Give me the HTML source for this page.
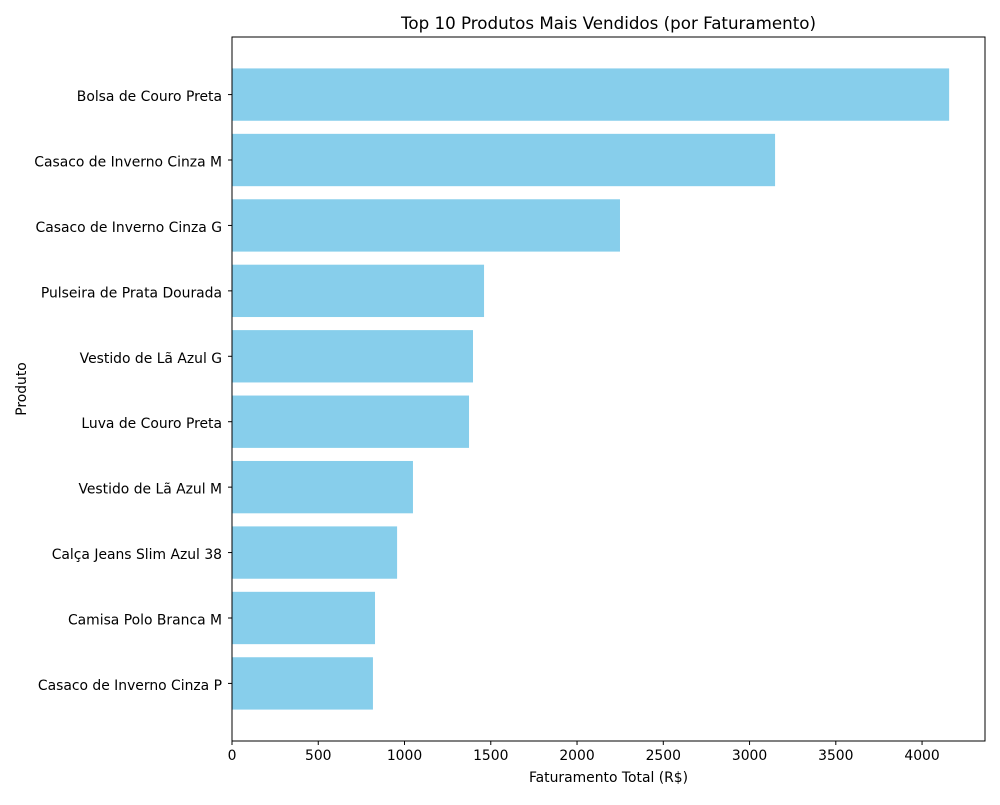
<!DOCTYPE html>
<html><head><meta charset="utf-8"><style>body{margin:0;background:#fff}svg{font-family:"DejaVu Sans","Liberation Sans",sans-serif}</style></head>
<body>
<svg id="chart" width="1000" height="800"></svg>
<script>
const categories = ["Bolsa de Couro Preta","Casaco de Inverno Cinza M","Casaco de Inverno Cinza G","Pulseira de Prata Dourada","Vestido de Lã Azul G","Luva de Couro Preta","Vestido de Lã Azul M","Calça Jeans Slim Azul 38","Camisa Polo Branca M","Casaco de Inverno Cinza P"];
const values = [4157,3148,2249,1461,1397,1374,1049,957,829,817];
const xTicks = [0,500,1000,1500,2000,2500,3000,3500,4000];
const NS="http://www.w3.org/2000/svg";
const svg=document.getElementById('chart');
const L=232,R=985,T=37,B=741;
const xmax=Math.max(...values)*1.05;
const x=v=>L+v/xmax*(R-L);
const n=categories.length;
const ymin=-0.4-0.049*(n-0.2), ymax=n-1+0.4+0.049*(n-0.2);
const y=i=>T+(i-ymin)/(ymax-ymin)*(B-T);
const step=(B-T)/(ymax-ymin);
function mk(tag,attrs,text){const e=document.createElementNS(NS,tag);for(const k in attrs)e.setAttribute(k,attrs[k]);if(text!==undefined)e.textContent=text;svg.appendChild(e);return e;}
values.forEach((v,i)=>{
  const r=mk('rect',{x:L,y:y(i)-0.4*step,width:x(v)-L,height:0.8*step,fill:'#87ceeb'});
  
  
  mk('line',{x1:L-4,x2:L,y1:y(i),y2:y(i),stroke:'#000'});
  const t=mk('text',{x:L-10,y:y(i)+6.5,'text-anchor':'end','font-size':13.9},categories[i]);
  
  
});
xTicks.forEach(v=>{
  mk('line',{x1:x(v),x2:x(v),y1:B,y2:B+4,stroke:'#000'});
  const t=mk('text',{x:x(v),y:B+19,'text-anchor':'middle','font-size':13.9},String(v));
  
  
});
const f=mk('rect',{x:L,y:T,width:R-L,height:B-T,fill:'none',stroke:'#000','stroke-width':1});


const tt=mk('text',{x:(L+R)/2,y:29,'text-anchor':'middle','font-size':16.7},'Top 10 Produtos Mais Vendidos (por Faturamento)');


const xt=mk('text',{x:(L+R)/2,y:782,'text-anchor':'middle','font-size':13.9},'Faturamento Total (R$)');


const yt=mk('text',{x:26,y:(T+B)/2,'text-anchor':'middle','font-size':13.9,transform:`rotate(-90 26 ${(T+B)/2})`},'Produto');


</script>
</body></html>
